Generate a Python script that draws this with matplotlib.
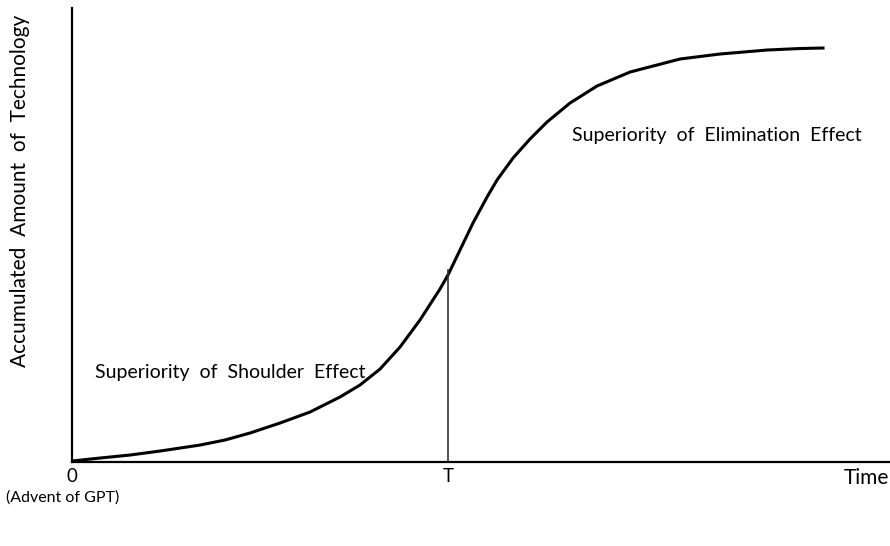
import matplotlib
matplotlib.use("Agg")
import matplotlib.pyplot as plt

plt.rcParams['font.family'] = ['Lato', 'DejaVu Sans']

# accumulated technology curve (time 0-100, amount 0-100)
time_pts = [0, 3.43, 7.10, 10.77, 15.67, 18.73, 21.79, 25.46, 29.13, 32.80,
            35.25, 37.70, 40.15, 42.59, 45.04, 46.02, 47.49, 49.08, 50.80,
            52.02, 53.98, 56.06, 58.14, 60.95, 64.26, 68.30, 74.42, 79.31,
            85.07, 89.11, 91.92]
amount_pts = [0.22, 0.88, 1.54, 2.42, 3.74, 4.85, 6.39, 8.59, 11.01, 14.32,
              16.96, 20.48, 25.33, 31.28, 38.11, 41.19, 46.70, 52.64, 58.37,
              62.11, 66.96, 71.15, 74.89, 79.07, 82.82, 85.90, 88.77, 89.87,
              90.75, 91.08, 91.19]

T = 46.0
T_level = 42.3
tick_pos = [0, T]
tick_labels = ['0', 'T']

fig = plt.figure(figsize=(8.9, 5.46), dpi=100)
ax = fig.add_axes([0.0809, 0.1538, 0.918, 0.8315])

ax.plot(time_pts, amount_pts, color='black', lw=2.2, solid_joinstyle='round')
ax.plot([T, T], [0, T_level], color='#333333', lw=1.2)

ax.set_xlim(0, 100)
ax.set_ylim(0, 100)
for s in ['top', 'right']:
    ax.spines[s].set_visible(False)
for s in ['left', 'bottom']:
    ax.spines[s].set_linewidth(1.6)
    ax.spines[s].set_color('black')

ax.set_xticks(tick_pos)
ax.set_xticklabels(tick_labels, fontsize=13.5)
ax.tick_params(axis='x', length=0, pad=4)
ax.set_yticks([])

ax.text(-1.2, -7.8, '(Advent of GPT)', ha='center', va='center', fontsize=11.5,
        clip_on=False)
ax.text(100, -3.6, 'Time', ha='right', va='center', fontsize=15, clip_on=False)

ax.set_ylabel('Accumulated  Amount  of  Technology', fontsize=15)
ax.yaxis.set_label_coords(-0.052, 0.597)

ax.text(2.8, 19.8, 'Superiority  of  Shoulder  Effect', fontsize=14, va='center')
ax.text(61.2, 72.0, 'Superiority  of  Elimination  Effect', fontsize=14, va='center')

plt.savefig('out.png', dpi=100)
